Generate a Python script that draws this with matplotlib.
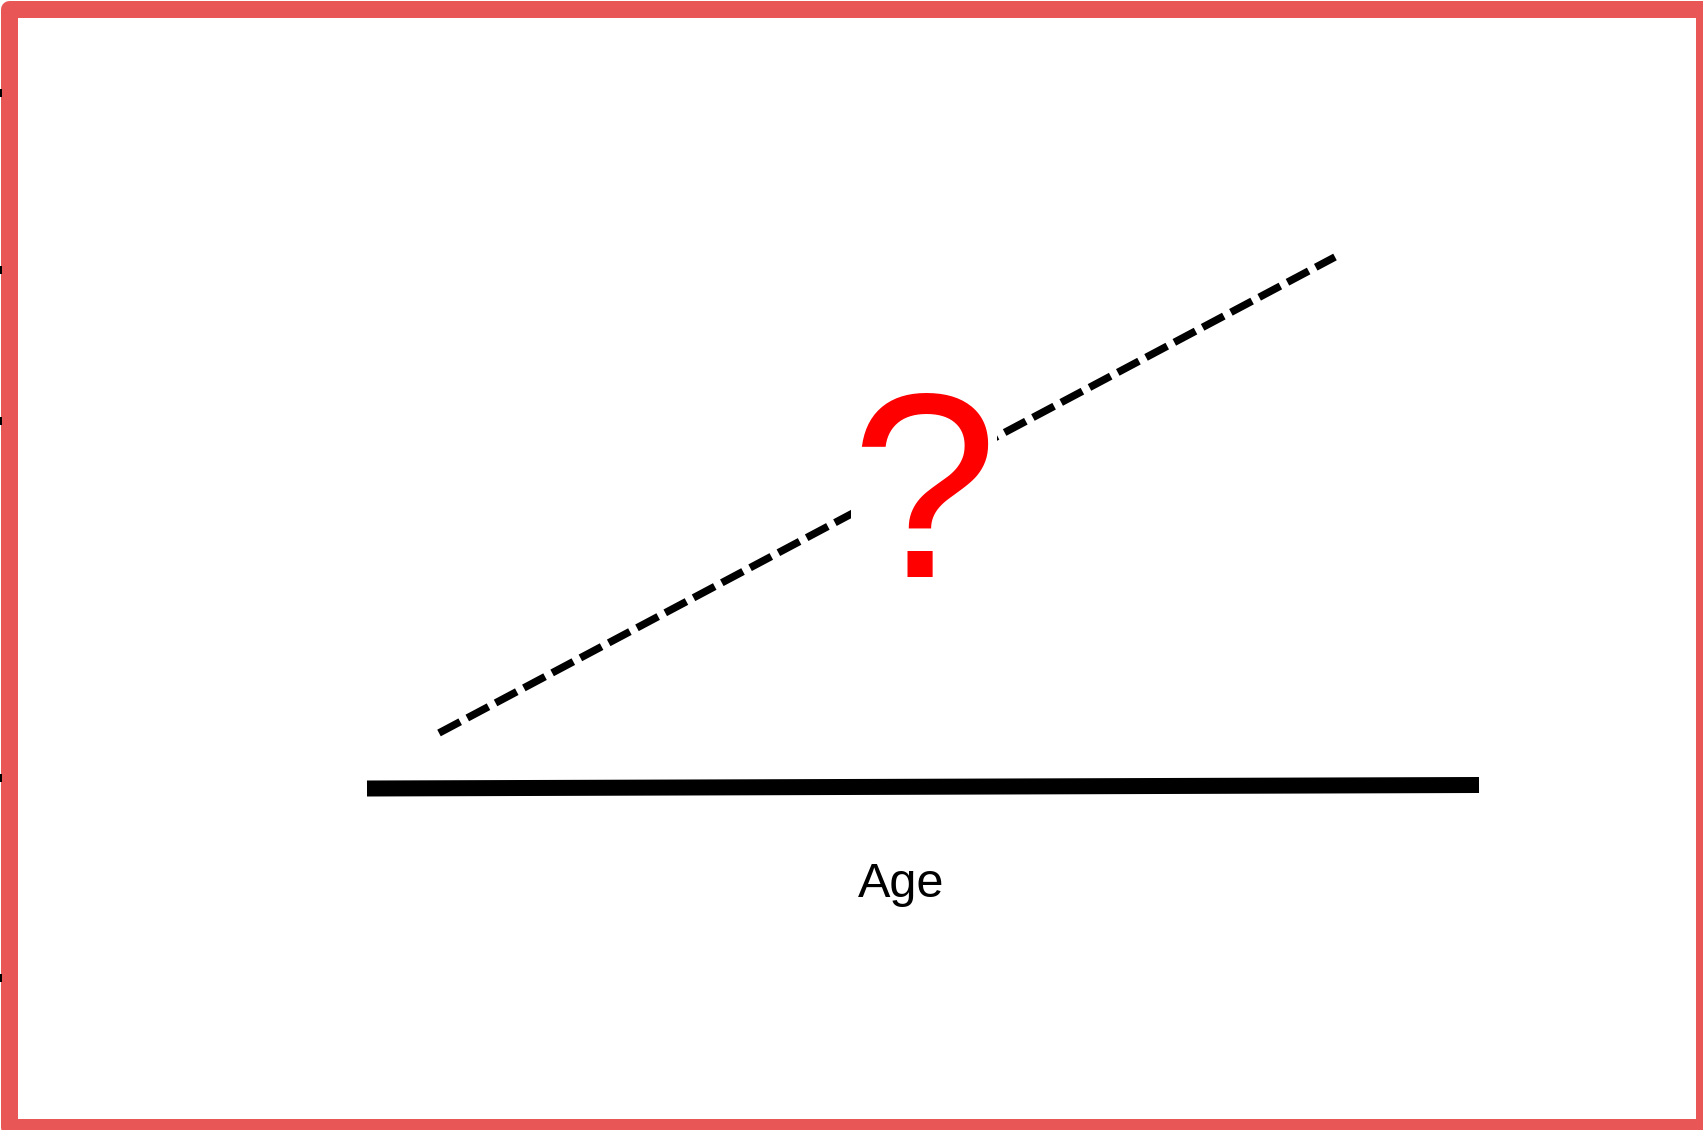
import matplotlib
matplotlib.use('Agg')
import matplotlib.pyplot as plt
from matplotlib.patches import Rectangle

#some defaults
W, H = 1703, 1130
output_fname = 'out.png'
border_color = '#e95656'

# diagram values, in pixel units of the canvas
age_axis_x = [367., 1479.]
age_axis_y = [788.5, 785.]
trend_x = [439., 1335.]
trend_y = [733., 257.]
edge_marks_y = [93., 270., 421., 778., 978.]
axis_label = 'Age'
unknown_label = '?'

plt.rc('font', family=['Liberation Sans', 'DejaVu Sans'])


def px(n):
    # pixels -> points at dpi 100
    return n*72./100.


def plot_diagram():
    fig = plt.figure(figsize=(W/100., H/100.), dpi=100)
    ax = fig.add_axes([0, 0, 1, 1])
    ax.set_xlim(0, W)
    ax.set_ylim(H, 0)
    ax.axis('off')

    # frame round the whole picture (right and bottom run off the canvas)
    ax.add_patch(Rectangle((8.5, 8.5), 1695., 1118., fill=False,
                           edgecolor=border_color, linewidth=px(17),
                           joinstyle='round', zorder=1, clip_on=False))
    for y in edge_marks_y:
        ax.plot([0.8, 0.8], [y-3, y+3], color='black', linewidth=px(2), zorder=2)

    ax.plot(age_axis_x, age_axis_y, color='black', linewidth=px(16),
            solid_capstyle='butt', zorder=3)
    ax.plot(trend_x, trend_y, color='black', linewidth=px(7.5),
            linestyle=(0, (3.2, 1.07)), dash_capstyle='butt', zorder=3)

    ax.text(924, 577, unknown_label, fontsize=px(264),
            ha='center', va='baseline', color='red', zorder=5,
            bbox=dict(boxstyle='square,pad=0', facecolor='white', edgecolor='none'))
    ax.text(901, 897, axis_label, fontsize=px(48.6), ha='center',
            va='baseline', color='black', zorder=4)

    fig.savefig(output_fname, dpi=100)
    return


if __name__ == '__main__':
    plot_diagram()
